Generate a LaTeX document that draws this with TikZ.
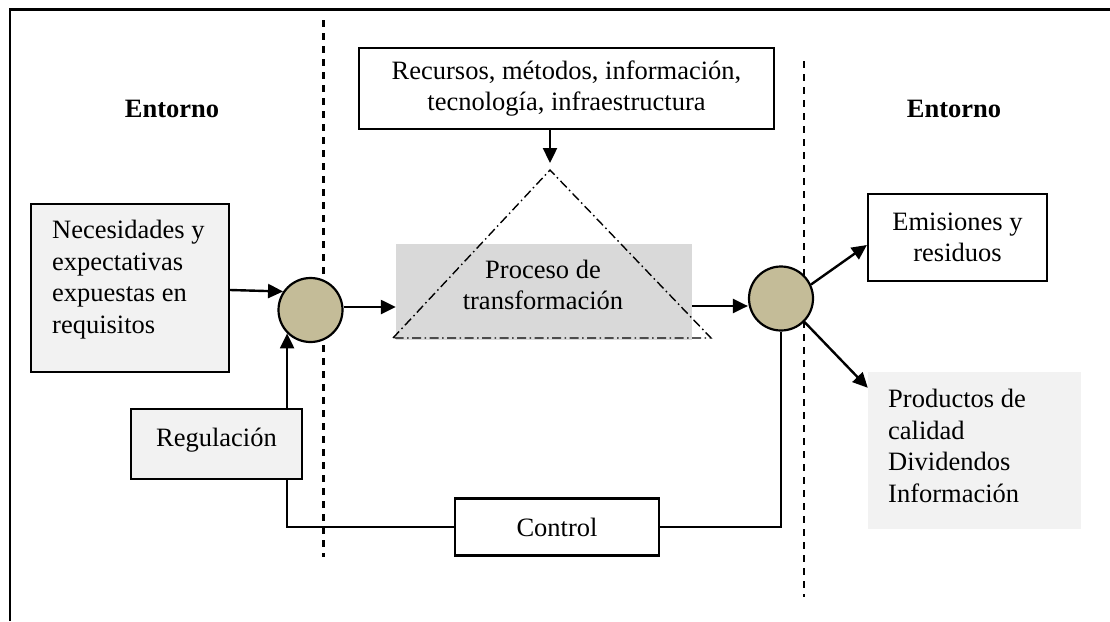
\documentclass[tikz,border=0pt]{standalone}
\usepackage{fontspec}
\setmainfont{Liberation Serif}
\usetikzlibrary{arrows.meta,calc}

\definecolor{boxgray}{RGB}{242,242,242}
\definecolor{procgray}{RGB}{217,217,217}
\definecolor{nodetan}{RGB}{196,188,152}

\tikzset{
  txt/.style={font=\fontsize{26.5}{31.5}\selectfont, inner sep=0pt},
  plainbox/.style={txt, draw, line width=2.2pt, align=center},
  graybox/.style={plainbox, fill=boxgray},
  junction/.style={circle, draw, line width=2.2pt, fill=nodetan, minimum size=64pt, inner sep=0pt},
  arr/.style={line width=2.4pt, -{Triangle[length=15pt,width=14pt]}},
  wire/.style={line width=2.4pt},
  boundary/.style={line width=2.2pt, dash pattern=on 7pt off 6pt},
  dashdot/.style={line width=1.4pt, dash pattern=on 9pt off 3.5pt on 1.5pt off 3.5pt},
}

\begin{document}
\begin{tikzpicture}[x=1pt, y=-1pt]
\useasboundingbox (0,0) rectangle (1110,621);

% outer frame
\draw[line width=2.4pt] (10,621) -- (10,9.5) -- (1110,9.5);

% environment boundaries
\draw[boundary] (323.5,20) -- (323.5,557);
\draw[boundary] (804,61) -- (804,597);

% headings
\node[txt, anchor=base, font=\fontsize{26.5}{31.5}\selectfont\bfseries] (entL) at (172,117) {Entorno};
\node[txt, anchor=base, font=\fontsize{26.5}{31.5}\selectfont\bfseries] (entR) at (954,117) {Entorno};

% resources box
\node[plainbox, minimum width=415pt, minimum height=81pt] (rec) at (566.5,88.5)
  {Recursos, métodos, información,\\tecnología, infraestructura};

% transformation process
\node[fill=procgray, minimum width=296pt, minimum height=96pt, inner sep=0pt] (procbox) at (544,292) {};
\coordinate (apex) at (550,170);
\coordinate (bl) at (393,338);
\coordinate (br) at (711,338);
\draw[dashdot] (bl) -- (apex) -- (br) -- cycle;
\node[txt, align=center] (proc) at (543,285) {Proceso de\\transformación};

% inputs
\node[graybox, minimum width=198pt, minimum height=168pt] (nec) at (130,288) {};
\node[txt, anchor=north west, align=left] (nectxt) at (52,220)
  {Necesidades y\\expectativas\\expuestas en\\requisitos};
\node[graybox, minimum width=171pt, minimum height=70pt, text depth=14pt] (reg) at (216.5,444) {Regulación};

% junctions
\node[junction] (c1) at (310.5,310) {};
\node[junction] (c2) at (781,298.5) {};

% outputs
\node[plainbox, minimum width=179pt, minimum height=87pt] (emi) at (957.5,237.5) {Emisiones y\\residuos};
\node[fill=boxgray, minimum width=213pt, minimum height=157pt, inner sep=0pt] (prod) at (974.5,450.5) {};
\node[txt, anchor=north west, align=left] (prodtxt) at (888,389)
  {Productos de\\calidad\\Dividendos\\Información};

% control
\node[plainbox, minimum width=204pt, minimum height=57pt] (ctrl) at (557,527) {Control};

% flows
\draw[arr, shorten >=7pt] (rec.south -| apex) -- (apex);
\draw[arr] ([yshift=-2pt]nec.east) -- (c1.146);
\draw[arr] (reg.north -| c1.south west) -- (c1.south west);
\draw[arr] ([yshift=3pt]c1.east) -- ([yshift=3pt]c1.east -| procbox.west);
\draw[arr] ([yshift=-7.5pt]c2.west -| procbox.east) -- ([yshift=-7.5pt]c2.west);
\draw[arr] (c2.25) -- ([yshift=-7.5pt]emi.west);
\draw[arr] (c2.south east) -- ([yshift=-16pt]prod.north west);

% feedback loop
\draw[wire] (c2.south) |- (ctrl.east);
\draw[wire] (reg.south -| c1.south west) |- (ctrl.west);
\end{tikzpicture}
\end{document}
